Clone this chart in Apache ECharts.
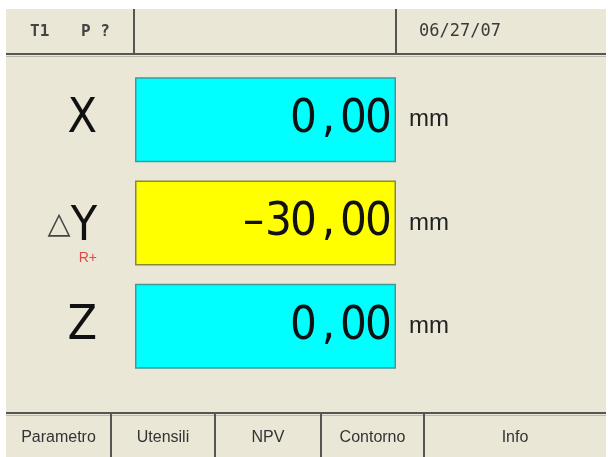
<!DOCTYPE html>
<html><head><meta charset="utf-8">
<script src="https://cdn.jsdelivr.net/npm/echarts@6/dist/echarts.min.js"></script>
<style>html,body{margin:0;padding:0;background:#fff}#c{width:608px;height:457px}</style>
</head><body><div id="c"></div>
<script>
// ---- data ----
const axisNames = ['X', 'Y', 'Z'];
const axisDelta = [false, true, false];
const axisSub = ['', 'R+', ''];
const readings = [0.00, -30.00, 0.00];
const units = ['mm', 'mm', 'mm'];
const fieldColors = ['#00FFFF', '#FFFF00', '#00FFFF'];
const fieldBorders = ['#3c9c9c', '#8a8a30', '#3c9c9c'];
const softkeys = ['Parametro', 'Utensili', 'NPV', 'Contorno', 'Info'];
const headerTool = 'T1';
const headerProg = 'P ?';
const headerDate = '06/27/07';

// ---- helpers ----
function fmtReading(v) {
  const s = v.toFixed(2).replace('.', ',').replace('-', '\u2013');
  return s.split('').map(ch => '{d|' + ch + '}').join('');
}

const BG = '#EAE7D6';
const LINE = '#555555';
const chart = echarts.init(document.getElementById('c'), null, {renderer: 'canvas'});

const graphics = [
  {type: 'rect', z: -10, shape: {x: 6, y: 9, width: 600, height: 448}, style: {fill: BG}},
  {type: 'line', shape: {x1: 6, y1: 54, x2: 606, y2: 54}, style: {stroke: LINE, lineWidth: 2}},
  {type: 'line', shape: {x1: 6, y1: 56.5, x2: 606, y2: 56.5}, style: {stroke: '#bdb9a8', lineWidth: 1}},
  {type: 'line', shape: {x1: 134, y1: 9, x2: 134, y2: 55}, style: {stroke: LINE, lineWidth: 2}},
  {type: 'line', shape: {x1: 396, y1: 9, x2: 396, y2: 55}, style: {stroke: LINE, lineWidth: 2}},
  {type: 'text', x: 30, y: 32, style: {text: headerTool, font: 'bold 16px "DejaVu Sans Mono"', fill: '#444', textVerticalAlign: 'middle'}},
  {type: 'text', x: 81, y: 32, style: {text: headerProg, font: 'bold 16px "DejaVu Sans Mono"', fill: '#444', textVerticalAlign: 'middle'}},
  {type: 'text', x: 460, y: 32, style: {text: headerDate, font: '17px "DejaVu Sans Mono"', fill: '#3a3a3a', textAlign: 'center', textVerticalAlign: 'middle'}},
  {type: 'line', shape: {x1: 6, y1: 413, x2: 606, y2: 413}, style: {stroke: LINE, lineWidth: 2}},
  {type: 'line', shape: {x1: 6, y1: 415.5, x2: 606, y2: 415.5}, style: {stroke: '#bdb9a8', lineWidth: 1}}
];
const keyEdges = [6, 111, 215, 321, 424, 606];
softkeys.forEach((k, i) => {
  if (i > 0) graphics.push({type: 'line', shape: {x1: keyEdges[i], y1: 413, x2: keyEdges[i], y2: 457}, style: {stroke: LINE, lineWidth: 2}});
  graphics.push({type: 'text', x: (keyEdges[i] + keyEdges[i + 1]) / 2, y: 438,
    style: {text: k, font: '16px "Liberation Sans"', fill: '#333', textAlign: 'center', textVerticalAlign: 'middle'}});
});

const catData = axisNames.map((n, i) => axisSub[i]
  ? {value: n, textStyle: {padding: [26, 0, 0, 0]}}
  : n);

chart.setOption({
  animation: false,
  backgroundColor: '#ffffff',
  graphic: graphics,
  grid: {left: 135, right: 212, top: 68, bottom: 79, outerBoundsMode: 'none'},
  xAxis: {type: 'value', min: 0, max: 1, show: false},
  yAxis: [
    {
      type: 'category', data: catData, inverse: true, position: 'left',
      axisLine: {show: false}, axisTick: {show: false}, splitLine: {show: false},
      axisLabel: {
        margin: 38,
        formatter: (v, i) => axisDelta[i]
          ? '{tri|\u25B3}{ax|' + v + '}' + (axisSub[i] ? '\n{sub|' + axisSub[i] + '}' : '')
          : '{ax|' + v + '}',
        rich: {
          ax: {fontFamily: '"DejaVu Sans Condensed","DejaVu Sans"', fontSize: 48, color: '#111', lineHeight: 44},
          tri: {fontFamily: '"DejaVu Sans"', fontSize: 30, color: '#444', lineHeight: 44, verticalAlign: 'middle', padding: [0, 0, 6, 0]},
          sub: {fontFamily: '"Liberation Sans"', fontSize: 14, color: '#e04848', lineHeight: 16, align: 'right'}
        }
      }
    },
    {
      type: 'category', data: axisNames, inverse: true, position: 'right',
      axisLine: {show: false}, axisTick: {show: false}, splitLine: {show: false},
      axisLabel: {
        margin: 13,
        formatter: (v, i) => units[i],
        fontFamily: '"Liberation Sans"', fontSize: 24, color: '#222'
      }
    }
  ],
  series: [{
    type: 'bar',
    yAxisIndex: 0,
    barWidth: 85,
    data: readings.map((r, i) => ({
      value: 1,
      itemStyle: {color: fieldColors[i], borderColor: fieldBorders[i], borderWidth: 1.5},
      label: {formatter: fmtReading(r)}
    })),
    label: {
      show: true, position: 'insideRight', distance: 5,
      rich: {
        d: {fontFamily: '"DejaVu Sans Condensed","DejaVu Sans"', fontSize: 47, color: '#111', width: 25, align: 'center'}
      }
    }
  }]
});
</script>
</body></html>
